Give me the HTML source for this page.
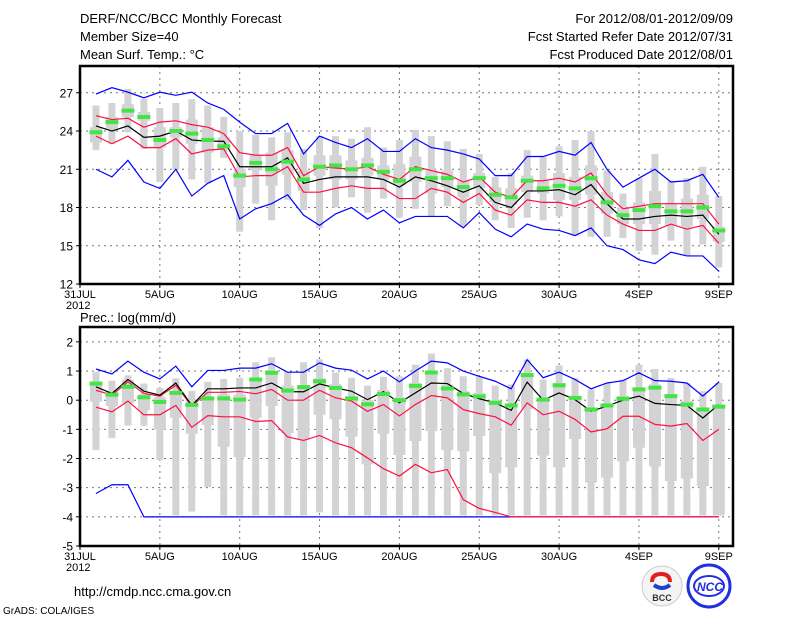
<!DOCTYPE html>
<html><head><meta charset="utf-8"><style>
body{margin:0;background:#fff;}
svg{display:block;font-family:"Liberation Sans",sans-serif;}
</style></head><body>
<svg id="chart" width="800" height="618" viewBox="0 0 800 618" xmlns="http://www.w3.org/2000/svg">
<rect width="800" height="618" fill="#fff"/>
<g font-size="13" fill="#000">
<text x="80" y="23">DERF/NCC/BCC Monthly Forecast</text>
<text x="80" y="41">Member Size=40</text>
<text x="80" y="59">Mean Surf. Temp.: °C</text>
<text x="733" y="23" text-anchor="end">For 2012/08/01-2012/09/09</text>
<text x="733" y="41" text-anchor="end">Fcst Started Refer Date 2012/07/31</text>
<text x="733" y="59" text-anchor="end">Fcst Produced Date 2012/08/01</text>
<text x="80" y="322">Prec.: log(mm/d)</text>
<text x="74" y="596">http://cmdp.ncc.cma.gov.cn</text>
<text x="3" y="614" font-size="10">GrADS: COLA/IGES</text>
</g>
<g id="top"></g>
<g id="bot"></g>
<g>
<circle cx="662" cy="586" r="20" fill="#f4f4f4" stroke="#ccc"/>
<path d="M652 582 q0 -8 9 -8 q9 0 9 8" fill="none" stroke="#e02020" stroke-width="4"/>
<path d="M654 585 q8 6 16 0" fill="none" stroke="#2040d0" stroke-width="4"/>
<text x="662" y="601" font-size="9" font-weight="bold" text-anchor="middle" fill="#333">BCC</text>
</g>
<g>
<circle cx="709" cy="586" r="21" fill="none" stroke="#2030e0" stroke-width="3"/>
<ellipse cx="709" cy="586" rx="15" ry="10" fill="none" stroke="#2030e0" stroke-width="2"/>
<text x="710" y="591" font-size="12" font-weight="bold" font-style="italic" text-anchor="middle" fill="#2030e0">NCC</text>
</g>
</svg>
<script>
// ---- temperature data (days 1..40 = Aug1..Sep9)
const dates=["31JUL","5AUG","10AUG","15AUG","20AUG","25AUG","30AUG","4SEP","9SEP"];
const tTicks=[12,15,18,21,24,27];
const pTicks=[-5,-4,-3,-2,-1,0,1,2];
const tBlueHi=[26.9,27.4,27.05,26.6,27.05,26.8,27.05,26.2,25.7,24.7,23.8,23.8,24.6,22.2,23.6,23.1,22.7,23.4,22.4,22.4,23.4,22.7,22.5,22.2,21.8,20.5,20.5,22.0,22.0,22.4,22.1,23.1,21.0,19.6,20.3,21.0,20.0,20.1,20.6,18.8];
const tBlueLo=[21.0,20.4,21.7,20.0,19.5,21.0,18.9,19.9,20.5,17.1,17.9,18.3,19.0,17.4,16.6,17.5,18.0,17.1,17.8,16.8,17.3,17.3,17.3,16.4,17.6,16.3,15.7,16.7,16.3,16.2,15.8,16.4,15.0,14.7,13.9,13.6,14.5,14.2,14.2,13.0];
const tRedHi=[25.2,24.9,25.0,24.3,24.7,24.8,24.5,24.3,23.8,22.3,22.1,22.1,22.7,20.5,21.2,21.1,21.0,21.2,20.6,20.2,21.2,20.9,20.6,20.0,20.4,19.2,18.8,20.1,20.1,20.3,20.0,20.7,19.0,17.9,18.1,18.3,18.3,18.3,18.3,16.7];
const tRedLo=[23.6,23.0,23.6,22.7,22.7,23.4,22.2,22.5,22.6,20.4,20.5,20.5,21.2,19.2,19.2,19.5,19.7,19.5,19.5,18.7,18.7,19.5,19.2,18.4,19.1,17.8,17.4,18.6,18.4,18.4,18.1,18.6,17.4,16.7,16.2,16.2,16.7,16.3,16.6,15.2];
const tMean=[24.4,24.0,24.4,23.5,23.6,24.0,23.3,23.2,23.2,21.2,21.2,21.2,21.9,19.9,20.2,20.4,20.4,20.4,20.2,19.6,20.4,20.1,19.7,19.2,19.7,18.4,18.0,19.3,19.3,19.4,19.0,19.8,18.3,17.1,17.1,17.3,17.4,17.3,17.4,15.9];
const tGreen=[23.9,24.7,25.6,25.1,23.3,24.0,23.8,23.3,22.8,20.5,21.5,21.0,21.6,20.2,21.2,21.3,21.0,21.3,20.8,20.1,21.0,20.3,20.3,19.6,20.3,19.0,18.8,20.1,19.5,19.7,19.5,20.3,18.4,17.4,17.8,18.1,17.7,17.7,18.0,16.2];
const tWhiskHi=[26.0,26.2,27.3,26.5,25.8,26.2,26.5,26.0,25.1,24.0,23.7,23.5,23.9,22.6,23.6,23.6,23.4,24.3,22.7,23.3,24.1,23.6,23.2,22.6,22.2,20.4,20.7,22.5,22.0,22.8,23.3,24.0,20.9,19.1,20.3,22.2,20.1,20.3,21.2,18.9];
const tWhiskLo=[22.5,23.0,23.9,22.6,20.0,21.0,20.2,19.9,21.9,16.1,18.3,17.0,18.6,17.8,16.4,18.0,18.8,17.6,18.7,17.2,17.9,17.3,18.1,16.5,18.2,17.0,16.4,17.2,17.0,17.3,15.8,15.7,15.7,15.6,14.6,14.3,15.4,14.2,15.1,13.3];
const tBoxHi=[24.3,25.1,26.1,25.5,24.3,24.3,24.9,24.3,23.5,21.0,22.1,22.3,22.5,20.9,22.1,22.1,21.7,21.9,21.3,21.4,22.0,20.9,20.9,20.1,20.7,19.6,19.5,20.5,20.1,20.7,20.4,21.3,19.2,18.0,18.4,19.3,18.3,18.7,19.0,16.5];
const tBoxLo=[23.1,24.2,25.1,24.8,22.7,23.5,23.0,22.3,22.6,19.6,20.9,19.7,20.6,19.3,20.5,20.2,20.2,20.5,20.2,19.7,20.0,19.1,19.6,18.8,19.5,18.4,18.2,19.2,19.1,18.6,18.6,19.0,17.5,16.7,16.7,16.7,16.6,16.5,17.1,15.3];
// ---- precipitation data
const pBlueHi=[1.07,0.9,1.34,0.96,0.73,1.17,0.46,1.02,1.02,1.1,1.1,1.25,0.96,0.96,1.28,1.1,1.03,0.73,1.0,0.63,1.0,1.34,1.28,1.0,0.82,0.65,0.39,1.39,0.77,0.96,0.71,0.39,0.59,0.67,0.94,0.67,0.65,0.59,0.14,0.62];
const pBlueLo=[-3.2,-2.9,-2.9,-4,-4,-4,-4,-4,-4,-4,-4,-4,-4,-4,-4,-4,-4,-4,-4,-4,-4,-4,-4,-4,-4,-4,-4,-4,-4,-4,-4,-4,-4,-4,-4,-4,-4,-4,-4,-4];
const pRedHi=[0.34,0.18,0.63,0.23,0.14,0.51,-0.2,0.27,0.27,0.3,0.22,0.37,0.0,0.0,0.34,0.08,-0.03,-0.38,-0.15,-0.54,-0.15,0.16,0.08,-0.32,-0.46,-0.57,-0.86,-0.09,-0.5,-0.38,-0.66,-1.09,-0.98,-0.55,-0.55,-0.83,-0.89,-0.8,-1.38,-1.0];
const pRedLo=[-0.24,-0.4,-0.03,-0.5,-0.5,-0.18,-0.93,-0.53,-0.57,-0.57,-0.73,-0.7,-1.26,-1.38,-1.21,-1.46,-1.63,-1.98,-2.35,-2.6,-2.2,-2.49,-2.38,-3.41,-3.71,-3.85,-4,-4,-4,-4,-4,-4,-4,-4,-4,-4,-4,-4,-4,-4];
const pMean=[0.46,0.23,0.71,0.31,0.17,0.59,-0.18,0.39,0.39,0.42,0.42,0.59,0.29,0.29,0.56,0.42,0.31,0.02,0.29,-0.09,0.25,0.59,0.57,0.23,0.05,-0.09,-0.35,0.62,0.0,0.25,0.02,-0.38,-0.2,0.0,0.14,-0.11,-0.15,-0.18,-0.61,-0.15];
const pGreen=[0.57,0.19,0.46,0.1,-0.06,0.25,-0.16,0.06,0.06,0.02,0.71,0.94,0.33,0.45,0.65,0.42,0.06,-0.14,0.21,0.0,0.49,0.95,0.4,0.2,0.13,-0.09,-0.18,0.86,0.02,0.51,0.08,-0.32,-0.18,0.05,0.37,0.43,0.14,-0.15,-0.32,-0.22];
const pWhiskHi=[0.96,0.67,0.85,0.57,0.42,0.75,0.32,0.63,0.73,0.77,1.3,1.47,0.97,1.3,1.4,0.95,0.77,0.5,0.8,0.82,1.22,1.6,1.1,0.82,0.82,0.5,0.54,1.39,0.71,1.19,0.76,0.37,0.59,0.71,1.22,1.07,0.76,0.59,0.31,0.59];
const pWhiskLo=[-1.71,-1.3,-0.87,-0.88,-2.05,-3.95,-3.82,-2.98,-3.95,-3.95,-3.95,-3.95,-3.95,-3.95,-3.85,-3.95,-3.95,-3.95,-3.95,-3.95,-3.95,-3.95,-3.95,-3.95,-3.95,-3.95,-3.95,-3.95,-3.95,-3.95,-3.95,-3.95,-3.95,-3.95,-3.95,-3.95,-3.95,-3.95,-3.95,-3.95];
const pBoxHi=[0.5,0.3,0.7,0.2,0.1,0.3,0.0,0.1,0.2,0.2,0.75,1.0,0.5,0.5,0.75,0.55,0.1,0.0,0.35,0.1,0.59,1.0,0.54,0.31,0.25,0.0,-0.15,0.88,0.07,0.59,0.14,-0.26,-0.2,0.14,0.37,0.54,0.14,-0.03,-0.26,-0.2];
const pBoxLo=[-0.05,-0.2,-0.1,-0.35,-1.0,-0.6,-1.15,-0.85,-1.6,-1.95,-0.6,-0.2,-1.13,-1.35,-0.5,-0.65,-1.25,-2.2,-1.15,-1.88,-1.4,-1.06,-1.71,-1.75,-1.23,-2.5,-2.3,-0.3,-1.9,-2.3,-1.33,-2.83,-2.66,-2.1,-1.63,-2.27,-2.77,-2.69,-2.95,-3.95];

const NS="http://www.w3.org/2000/svg";
const X0=80,X1=733,DX=15.97;
const xd=d=>X0+d*DX;
function mk(p,tag,at){const e=document.createElementNS(NS,tag);for(const k in at)e.setAttribute(k,at[k]);p.appendChild(e);return e;}

function panel(g,top,bot,vmin,vmax,ticks,S,tickFmt,prefix){
  const y=v=>bot-(v-vmin)*(bot-top)/(vmax-vmin);
  // grid
  for(let i=1;i<dates.length;i++){const gx=xd(i*5);
    const l=mk(g,'line',{x1:gx,x2:gx,y1:top,y2:bot,stroke:'#777','stroke-dasharray':'2,4','stroke-width':1});
    
    }
  ticks.forEach(t=>{if(t<=vmin)return;const gy=y(t);
    const l=mk(g,'line',{x1:X0,x2:X1,y1:gy,y2:gy,stroke:'#777','stroke-dasharray':'2,4','stroke-width':1});
    
    });
  // gray bars
  for(let i=0;i<40;i++){const cx=xd(i+1);
    const w=mk(g,'rect',{x:cx-3.5,y:y(S.wh[i]),width:7,height:y(S.wl[i])-y(S.wh[i]),fill:'#d3d3d6'});
    
    
    const b=mk(g,'rect',{x:cx-6,y:y(S.bh[i]),width:12,height:y(S.bl[i])-y(S.bh[i]),fill:'#d3d3d6'});
    
    }
  const line=(arr,col,name)=>{const p=mk(g,'polyline',{points:arr.map((v,i)=>xd(i+1)+','+y(v)).join(' '),fill:'none',stroke:col,'stroke-width':1.2});
    
    };
  line(S.blo,'#0000ff',prefix+'-min-line');line(S.bhi,'#0000ff',prefix+'-max-line');
  line(S.rlo,'#ff1040',prefix+'-lower-spread-line');line(S.rhi,'#ff1040',prefix+'-upper-spread-line');
  line(S.mean,'#000',prefix+'-mean-line');
  for(let i=0;i<40;i++){const cx=xd(i+1);
    const r=mk(g,'rect',{x:cx-6.5,y:y(S.gr[i])-2,width:13,height:4,fill:'#44e444'});
    
    }
  // frame
  const f=mk(g,'rect',{x:X0,y:top,width:X1-X0,height:bot-top,fill:'none',stroke:'#000','stroke-width':2.5});
  
  
  ticks.forEach(t=>{const gy=y(t);
    mk(g,'line',{x1:X0-4,x2:X0,y1:gy,y2:gy,stroke:'#000'});
    const tx=mk(g,'text',{x:X0-7,y:gy+4.5,'text-anchor':'end','font-size':12});tx.textContent=tickFmt(t);
    
    });
  dates.forEach((d,i)=>{const gx=xd(i*5);
    mk(g,'line',{x1:gx,x2:gx,y1:bot,y2:bot+4,stroke:'#000'});
    const tx=mk(g,'text',{x:gx,y:bot+14,'text-anchor':'middle','font-size':11});tx.textContent=d;
    
    });
  const yr=mk(g,'text',{x:66,y:bot+25,'font-size':11});yr.textContent='2012';
  
  
}
panel(document.getElementById('top'),66,284,12,29.1,tTicks,
 {wh:tWhiskHi,wl:tWhiskLo,bh:tBoxHi,bl:tBoxLo,bhi:tBlueHi,blo:tBlueLo,rhi:tRedHi,rlo:tRedLo,mean:tMean,gr:tGreen},t=>String(t),'temp');
panel(document.getElementById('bot'),327,546,-5,2.51,pTicks,
 {wh:pWhiskHi,wl:pWhiskLo,bh:pBoxHi,bl:pBoxLo,bhi:pBlueHi,blo:pBlueLo,rhi:pRedHi,rlo:pRedLo,mean:pMean,gr:pGreen},t=>String(t),'prec');
</script>
</body></html>
